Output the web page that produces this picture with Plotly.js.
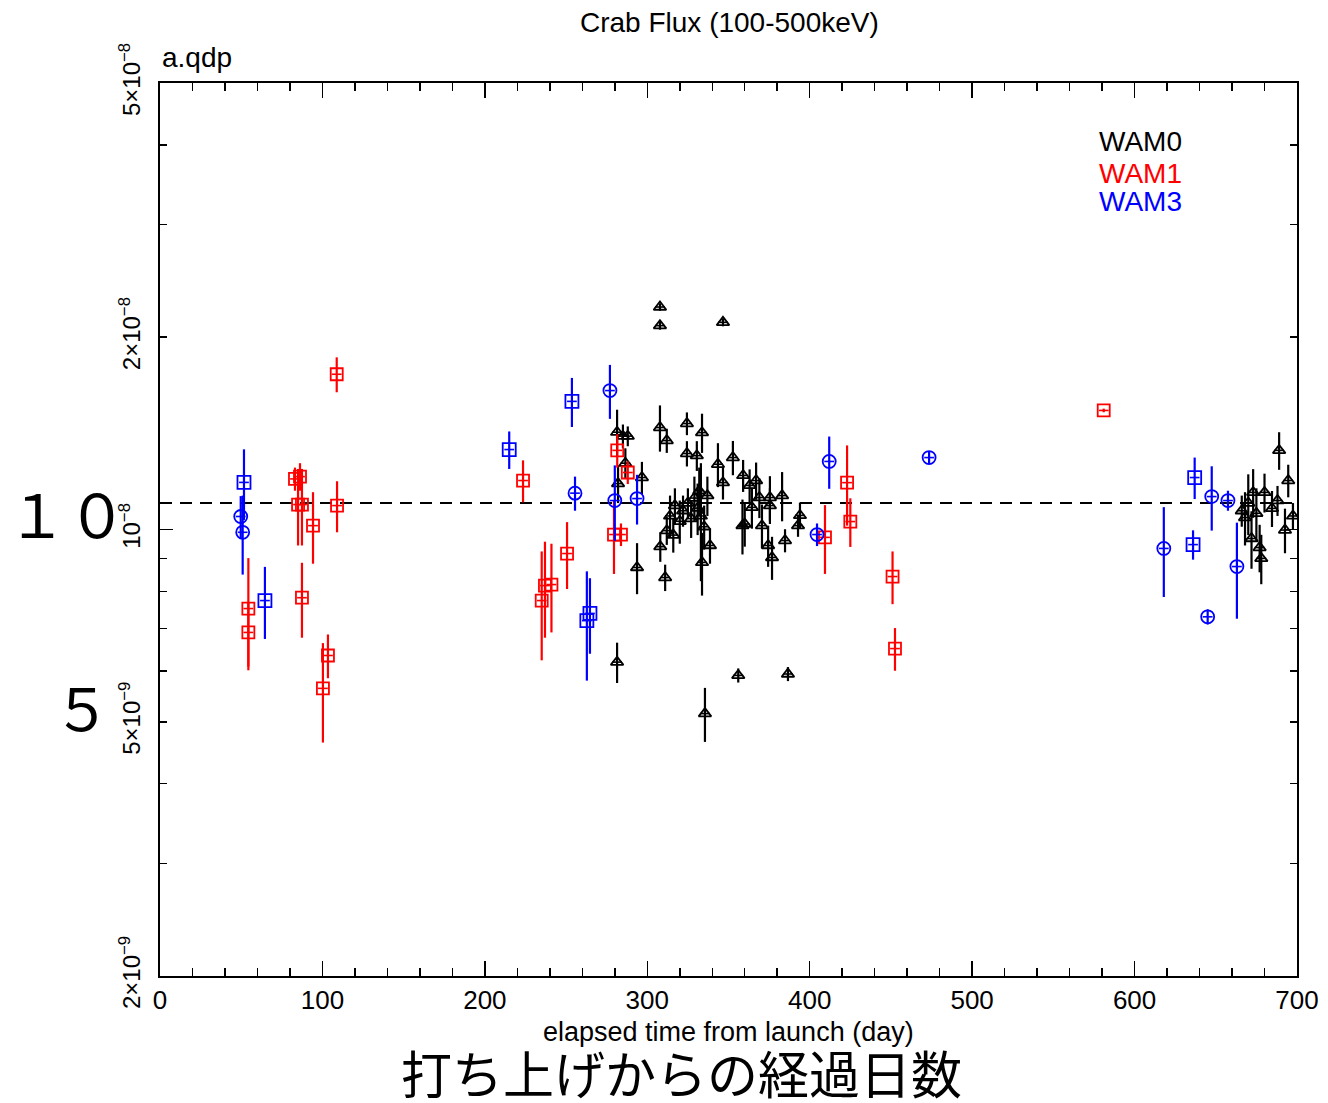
<!DOCTYPE html>
<html>
<head>
<meta charset="utf-8">
<script src="https://cdn.plot.ly/plotly-3.0.1.min.js"></script>
<style>html,body{margin:0;padding:0;background:#fff;}#chart{width:1328px;height:1103px;}</style>
</head>
<body>
<div id="chart"></div>
<script>
// Flux values in units of 1e-8 (axis labels carry the exponent)
const wam0Day = [281.4,285,288,286.5,282,296.7,293.7,281.4,307.8,307.8,346.6,335.5,356,386.6,307.8,312,324.4,333.7,324.4,330.5,352.7,343.5,359,311,308,312,338.6,333.7,333,360,314,317,320,322,325,327,329,331,332,335,337,316,346.6,363,367,369,375.5,383,364.4,375.5,358.6,370.6,374.4,376.8,384.8,394,392.8,
  689,694.6,673,680,688,668,672,677,678,692.6,697.5,684.6,670,675,666];
const wam0Flux = [1.42,1.40,1.40,1.27,1.18,1.206,0.872,0.62,2.23,2.085,2.11,0.515,0.591,0.594,1.444,1.378,1.465,1.418,1.315,1.305,1.296,1.265,1.215,0.841,0.94,0.996,0.944,0.888,1.05,1.02,1.05,1.09,1.03,1.07,1.10,1.04,1.12,1.08,1.15,1.01,1.13,0.98,1.184,1.172,1.193,1.122,1.122,1.13,1.083,1.09,1.014,1.014,0.944,0.904,0.961,1.052,1.014,
  1.33,1.193,1.143,1.143,1.11,1.044,0.968,0.937,0.901,0.998,1.05,1.079,1.10,1.06,1.07];
const wam0Err = [0.12,0.06,0.05,0.07,0.08,0.07,0.08,0.045,0.03,0.03,0.03,0.05,0.015,0.015,0.12,0.06,0.06,0.1,0.06,0.07,0.08,0.1,0.07,0.04,0.05,0.05,0.06,0.1,0.22,0.08,0.08,0.07,0.08,0.06,0.06,0.07,0.09,0.1,0.1,0.08,0.08,0.06,0.07,0.07,0.08,0.08,0.09,0.1,0.08,0.07,0.1,0.08,0.07,0.07,0.04,0.05,0.04,
  0.09,0.07,0.1,0.08,0.06,0.1,0.1,0.08,0.08,0.08,0.05,0.07,0.12,0.1,0.06];

const wam1Day = [54.4,54.4,83.1,86.2,85.0,87.4,94.2,87.4,103.4,100.3,108.8,109.0,223.5,250.6,237.0,241.0,235.0,279.5,283.8,281.5,288.0,409.4,423.0,425.0,451.0,452.5,581.0];
const wam1Flux = [0.752,0.690,1.20,1.21,1.094,1.094,1.014,0.782,0.635,0.564,1.75,1.09,1.193,0.917,0.817,0.82,0.774,0.982,0.982,1.33,1.228,0.972,1.184,1.029,0.844,0.651,1.536];
const wam1Err = [0.15,0.08,0.05,0.06,0.15,0.15,0.13,0.105,0.05,0.1,0.11,0.1,0.09,0.11,0.14,0.13,0.15,0.13,0.04,0.08,0.05,0.12,0.17,0.09,0.08,0.05,0.01];

const wam3Day = [51.7,49.7,50.9,64.6,215.0,253.6,277.0,255.5,262.8,264.7,280.0,293.7,412.0,404.5,473.5,637.0,647.5,657.5,618.0,636.0,663.0,645.0];
const wam3Flux = [1.185,1.048,0.99,0.774,1.334,1.587,1.65,1.14,0.72,0.739,1.11,1.118,1.278,0.982,1.296,1.206,1.126,1.11,0.934,0.947,0.875,0.73];
const wam3Err = [0.15,0.08,0.14,0.1,0.09,0.14,0.16,0.07,0.14,0.1,0.15,0.1,0.12,0.04,0.03,0.09,0.13,0.04,0.15,0.05,0.15,0.02];
const wam3Symbol = ['square-open','circle-open','circle-open','square-open','square-open','square-open','circle-open','circle-open','square-open','square-open','circle-open','circle-open','circle-open','circle-open','circle-open','square-open','circle-open','circle-open','circle-open','square-open','circle-open','circle-open'];

const refDay = [0, 700];
const refFlux = [1.1, 1.1];

const yTickVals = [0.2, 0.5, 1, 2, 5];
const yTickText = ['2×10<sup>−9</sup>','5×10<sup>−9</sup>','10<sup>−8</sup>','2×10<sup>−8</sup>','5×10<sup>−8</sup>'];
const yMinorVals = [0.3,0.4,0.6,0.7,0.8,0.9,1,3,4];

function errTrace(x, y, e, color, symbol, size) {
  return {
    type: 'scatter', mode: 'markers', x: x, y: y,
    marker: {symbol: symbol, size: size, color: color, line: {color: color, width: 1.8}},
    error_y: {type: 'data', array: e, visible: true, color: color, thickness: 2.2, width: 0},
    error_x: {type: 'constant', value: 3, visible: true, color: color, thickness: 1.6, width: 0},
    showlegend: false, hoverinfo: 'x+y'
  };
}

const traces = [
  {type:'scatter', mode:'lines', x: refDay, y: refFlux, line:{color:'#000', width:2, dash:'12px,8px'}, showlegend:false, hoverinfo:'skip'},
  errTrace(wam0Day, wam0Flux, wam0Err, '#000000', 'triangle-up-open', 11),
  errTrace(wam1Day, wam1Flux, wam1Err, '#ff0000', 'square-open', 12),
  errTrace(wam3Day, wam3Flux, wam3Err, '#0000ff', wam3Symbol, 13),
  {type:'scatter', mode:'markers', x:[350], y:[1], yaxis:'y2', marker:{opacity:0}, showlegend:false, hoverinfo:'skip'}
];

const fontMain = 'Liberation Sans, Arial, sans-serif';
const fontJP = 'Noto Sans CJK JP, sans-serif';

const layout = {
  width: 1328, height: 1103,
  margin: {l:160, r:31, t:83, b:127},
  paper_bgcolor:'#fff', plot_bgcolor:'#fff',
  xaxis: {
    range:[0,700], showline:true, linecolor:'#000', linewidth:2, mirror:'ticks',
    ticks:'inside', ticklen:15, tickwidth:1.5, tickcolor:'#000',
    tickmode:'array', tickvals:[0,100,200,300,400,500,600,700],
    ticktext:['0','100','200','300','400','500','600','700'],
    tickfont:{family:fontMain, size:26, color:'#000'},
    minor:{dtick:20, ticklen:8, tickwidth:1.5, tickcolor:'#000', ticks:'inside', showgrid:false},
    showgrid:false, zeroline:false
  },
  yaxis: {
    type:'log', range:[Math.log10(0.2), Math.log10(5)],
    showline:true, linecolor:'#000', linewidth:2, mirror:'ticks',
    ticks:'inside', ticklen:7, tickwidth:1.5, tickcolor:'#000',
    tickmode:'array', tickvals:yTickVals, ticktext:yTickText, tickangle:-90,
    ticklabelstandoff:8,
    tickfont:{family:fontMain, size:24, color:'#000'},
    minor:{tickmode:'array', tickvals:yMinorVals, ticklen:7, tickwidth:1.5, tickcolor:'#000', ticks:'inside', showgrid:false},
    showgrid:false, zeroline:false
  },
  yaxis2: {
    type:'log', range:[Math.log10(0.2), Math.log10(5)], overlaying:'y', side:'left',
    showline:false, ticks:'inside', ticklen:13, tickwidth:1.5, tickcolor:'#000', mirror:'ticks',
    tickmode:'array', tickvals:[1], showticklabels:false, showgrid:false, zeroline:false
  },
  annotations: [
    {text:'Crab Flux (100-500keV)', xref:'paper', yref:'paper', x:0.501, y:1.068, xanchor:'center', yanchor:'middle', showarrow:false, font:{family:fontMain, size:28, color:'#000'}},
    {text:'a.qdp', xref:'paper', yref:'paper', x:0, y:1.029, xanchor:'left', yanchor:'middle', showarrow:false, font:{family:fontMain, size:28, color:'#000'}},
    {text:'WAM0', xref:'paper', yref:'paper', x:0.824, y:0.934, xanchor:'left', yanchor:'middle', showarrow:false, font:{family:fontMain, size:28, color:'#000000'}},
    {text:'WAM1', xref:'paper', yref:'paper', x:0.824, y:0.899, xanchor:'left', yanchor:'middle', showarrow:false, font:{family:fontMain, size:28, color:'#ff0000'}},
    {text:'WAM3', xref:'paper', yref:'paper', x:0.824, y:0.867, xanchor:'left', yanchor:'middle', showarrow:false, font:{family:fontMain, size:28, color:'#0000ff'}},
    {text:'elapsed time from launch (day)', xref:'paper', yref:'paper', x:0.5, y:-0.063, xanchor:'center', yanchor:'middle', showarrow:false, font:{family:fontMain, size:27, color:'#000'}},
    {text:'打ち上げからの経過日数', xref:'paper', yref:'paper', x:0.459, y:-0.107, xanchor:'center', yanchor:'middle', showarrow:false, font:{family:fontJP, size:51, color:'#000'}},
    {text:'１０', xref:'paper', yref:'paper', x:-0.082, y:0.520, xanchor:'center', yanchor:'middle', showarrow:false, font:{family:fontJP, size:60, color:'#000'}},
    {text:'５', xref:'paper', yref:'paper', x:-0.069, y:0.302, xanchor:'center', yanchor:'middle', showarrow:false, font:{family:fontJP, size:58, color:'#000'}}
  ]
};

Plotly.newPlot('chart', traces, layout, {displayModeBar:false, staticPlot:true});
</script>
</body>
</html>
